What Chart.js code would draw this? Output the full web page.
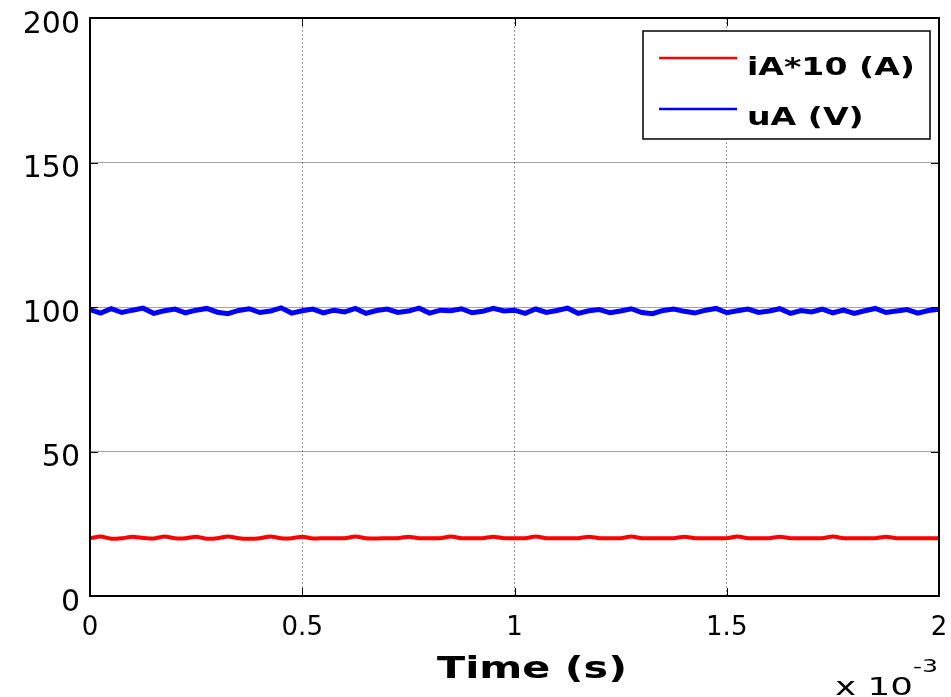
<!DOCTYPE html>
<html>
<head>
<meta charset="utf-8">
<script src="https://cdn.jsdelivr.net/npm/chart.js@4.4.1/dist/chart.umd.min.js"></script>
<style>
    html, body { margin: 0; padding: 0; background: #fff; }
    #wrap { width: 951px; height: 697px; position: relative; }
</style>
</head>
<body>
<div id="wrap"><canvas id="scopeChart"></canvas></div>
<script>
// Data (time axis in ms, shown as x 10^-3 s)
const sampleStep = 0.025;
const xTicks = [0, 0.5, 1, 1.5, 2];
const yTicks = [0, 50, 100, 150, 200];

const currentLabel = 'iA*10 (A)';
const voltageLabel = 'uA (V)';

const currentValues = [
    20.0, 20.6, 19.8, 20.0, 20.5, 20.1, 19.9, 20.6, 20.0, 20.0,
    20.5, 19.8, 20.0, 20.6, 20.0, 19.8, 20.0, 20.6, 20.0, 20.0,
    20.5, 19.9, 20.0, 20.0, 20.0, 20.6, 20.0, 19.9, 20.0, 20.0,
    20.5, 20.0, 20.0, 20.0, 20.6, 20.0, 20.0, 20.0, 20.5, 20.0,
    20.0, 20.0, 20.6, 20.0, 20.0, 20.0, 20.0, 20.5, 20.0, 20.0,
    20.0, 20.6, 20.0, 20.0, 20.0, 20.0, 20.5, 20.0, 20.0, 20.0,
    20.0, 20.6, 20.0, 20.0, 20.0, 20.5, 20.0, 20.0, 20.0, 20.0,
    20.6, 20.0, 20.0, 20.0, 20.0, 20.5, 20.0, 20.0, 20.0, 20.0, 20.0
];

const voltageValues = [
    99.1, 97.9, 99.4, 98.1, 98.9, 99.6, 97.8, 98.7, 99.3, 98.0,
    98.9, 99.5, 98.2, 97.7, 98.8, 99.4, 98.1, 98.6, 99.7, 97.9,
    98.7, 99.3, 98.0, 98.9, 98.3, 99.5, 97.8, 98.8, 99.3, 98.1,
    98.6, 99.6, 97.9, 98.9, 98.7, 99.4, 98.0, 98.5, 99.5, 98.6,
    98.9, 97.8, 99.3, 98.1, 98.8, 99.6, 97.8, 98.7, 99.1, 98.0,
    98.6, 99.4, 98.1, 97.7, 98.8, 99.3, 98.5, 97.9, 98.9, 99.5,
    98.0, 98.7, 99.3, 98.1, 98.6, 99.4, 97.8, 98.8, 98.3, 99.3,
    98.0, 98.9, 97.8, 98.7, 99.5, 98.1, 98.6, 99.1, 97.9, 98.8, 99.2
];

// Build {x, y} points on the sample grid
function toPoints(values) {
    return values.map((v, i) => ({ x: i * sampleStep, y: v }));
}

// Stretched text helper (the reference text is wide)
function wideText(ctx, text, x, y, font, targetWidth, align) {
    ctx.save();
    ctx.font = font;
    const w = ctx.measureText(text).width;
    const sx = targetWidth ? targetWidth / w : 1;
    ctx.translate(x, y);
    ctx.scale(sx, 1);
    ctx.textAlign = align || 'left';
    ctx.textBaseline = 'alphabetic';
    ctx.fillStyle = '#000';
    ctx.fillText(text, 0, 0);
    ctx.restore();
}

// Frame, tick marks, legend box and axis captions
const framePlugin = {
    id: 'frame',
    afterDatasetsDraw(chart) {
        const ctx = chart.ctx;
        const a = chart.chartArea;
        const xs = chart.scales.x;
        const ys = chart.scales.y;
        ctx.save();
        ctx.strokeStyle = '#000';
        ctx.lineWidth = 1;
        ctx.beginPath();
        xTicks.forEach(t => {
            const px = Math.round(xs.getPixelForValue(t)) + 0.5;
            ctx.moveTo(px, a.bottom); ctx.lineTo(px, a.bottom - 8);
            ctx.moveTo(px, a.top); ctx.lineTo(px, a.top + 8);
        });
        yTicks.forEach(t => {
            const py = Math.round(ys.getPixelForValue(t)) + 0.5;
            ctx.moveTo(a.left, py); ctx.lineTo(a.left + 8, py);
            ctx.moveTo(a.right, py); ctx.lineTo(a.right - 8, py);
        });
        ctx.stroke();
        ctx.lineWidth = 2;
        ctx.strokeRect(a.left, a.top, a.right - a.left, a.bottom - a.top);
        ctx.restore();
    },
    afterDraw(chart) {
        const ctx = chart.ctx;
        // legend
        ctx.save();
        ctx.fillStyle = '#fff';
        ctx.fillRect(643, 31, 287, 108);
        ctx.strokeStyle = '#000';
        ctx.lineWidth = 1.5;
        ctx.strokeRect(643, 31, 287, 108);
        ctx.restore();

        ctx.save();
        ctx.font = 'bold 25px "DejaVu Sans"';
        const sx = 168 / ctx.measureText(currentLabel).width;
        ctx.restore();
        chart.data.datasets.forEach((ds, i) => {
            const lineY = 58 + i * 51;
            ctx.save();
            ctx.strokeStyle = ds.borderColor;
            ctx.lineWidth = 2.5;
            ctx.beginPath();
            ctx.moveTo(659, lineY);
            ctx.lineTo(737, lineY);
            ctx.stroke();
            ctx.restore();
            ctx.save();
            ctx.font = 'bold 25px "DejaVu Sans"';
            const w = ctx.measureText(ds.label).width;
            ctx.restore();
            wideText(ctx, ds.label, 747, 75 + i * 50, 'bold 25px "DejaVu Sans"', w * sx, 'left');
        });

        // x axis title and exponent
        wideText(ctx, 'Time (s)', 532, 678, 'bold 30px "DejaVu Sans"', 190, 'center');
        wideText(ctx, 'x 10', 835, 695, '24px "DejaVu Sans"', 78, 'left');
        wideText(ctx, '-3', 913, 672, '17px "DejaVu Sans"', 25, 'left');
    }
};

// Initialize Chart
const ctx = document.getElementById('scopeChart').getContext('2d');
const scopeChart = new Chart(ctx, {
    type: 'line',
    data: {
        datasets: [{
            label: currentLabel,
            data: toPoints(currentValues),
            borderColor: '#ff0000',
            borderWidth: 4,
            pointRadius: 0,
            tension: 0.2
        }, {
            label: voltageLabel,
            data: toPoints(voltageValues),
            borderColor: '#0000ff',
            borderWidth: 5,
            pointRadius: 0,
            tension: 0
        }]
    },
    options: {
        responsive: true,
        maintainAspectRatio: false,
        animation: false,
        layout: { padding: { left: 0, top: 18, right: 12, bottom: 0 } },
        plugins: {
            legend: { display: false },
            tooltip: { enabled: false }
        },
        scales: {
            x: {
                type: 'linear',
                min: 0,
                max: 2,
                afterBuildTicks: scale => {
                    scale.ticks = xTicks.map(v => ({ value: v }));
                },
                afterFit: scale => {
                    scale.height = 101;
                    scale.paddingLeft = 0;
                    scale.paddingRight = 0;
                },
                ticks: {
                    color: '#000',
                    padding: 17,
                    maxRotation: 0,
                    font: { family: 'DejaVu Sans', size: 26 },
                    callback: value => String(value)
                },
                grid: {
                    color: 'rgba(0,0,0,0.4)',
                    lineWidth: 1,
                    drawTicks: false
                },
                border: { display: false, dash: [2, 2] }
            },
            y: {
                min: 0,
                max: 200,
                afterBuildTicks: scale => {
                    scale.ticks = yTicks.map(v => ({ value: v }));
                },
                afterFit: scale => {
                    scale.width = 90;
                    scale.paddingTop = 0;
                    scale.paddingBottom = 0;
                },
                ticks: {
                    color: '#000',
                    padding: 10,
                    labelOffset: 7,
                    font: { family: 'DejaVu Sans', size: 30 },
                    callback: value => String(value)
                },
                grid: {
                    color: 'rgba(0,0,0,0.35)',
                    lineWidth: 1,
                    drawTicks: false
                },
                border: { display: false }
            }
        }
    },
    plugins: [framePlugin]
});
</script>
</body>
</html>
